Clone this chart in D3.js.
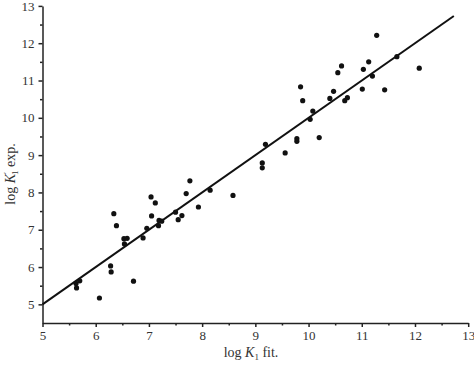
<!DOCTYPE html>
<html>
<head>
<meta charset="utf-8">
<script src="https://cdn.jsdelivr.net/npm/d3@7"></script>
<style>
  body { margin: 0; background: #fff; }
  svg { display: block; }
  .axis text { font-family: "Liberation Serif", serif; font-size: 13px; fill: #333; }
  .axis path, .axis line { stroke: #222; stroke-width: 1.5; }
  .lbl { font-family: "Liberation Serif", serif; font-size: 14px; fill: #333; }
</style>
</head>
<body>
<svg width="474" height="369"></svg>
<script>
"use strict";

// log K1 fit. (x) and log K'1 exp. (y)
var logKfit = [5.63, 5.64, 5.70, 6.07, 6.28, 6.29, 6.34, 6.39, 6.54, 6.53, 6.59, 6.71,
  6.89, 6.96, 7.04, 7.05, 7.12, 7.19, 7.18, 7.24, 7.50, 7.55, 7.62, 7.70, 7.77, 7.93,
  8.15, 8.58, 9.13, 9.13, 9.19, 9.56, 9.78, 9.78, 9.85, 9.89, 10.03, 10.08, 10.20,
  10.40, 10.47, 10.55, 10.62, 10.68, 10.73, 11.01, 11.03, 11.13, 11.20, 11.28, 11.43,
  11.66, 12.08];
var logKexp = [5.56, 5.44, 5.63, 5.17, 6.03, 5.87, 7.43, 7.11, 6.62, 6.76, 6.77, 5.62,
  6.78, 7.04, 7.88, 7.37, 7.72, 7.25, 7.11, 7.23, 7.47, 7.27, 7.38, 7.97, 8.31, 7.61,
  8.06, 7.92, 8.79, 8.66, 9.29, 9.06, 9.44, 9.37, 10.83, 10.46, 9.96, 10.18, 9.47,
  10.52, 10.71, 11.21, 11.39, 10.46, 10.54, 10.77, 11.30, 11.50, 11.12, 12.21, 10.75,
  11.64, 11.33];
var fitLine = [[5, 5], [12.73, 12.73]];
var xTicks = [5, 6, 7, 8, 9, 10, 11, 12, 13];
var yTicks = [5, 6, 7, 8, 9, 10, 11, 12, 13];

var svg = d3.select("svg");

var x = d3.scaleLinear().domain([5, 13]).range([42.5, 468.2]);
var y = d3.scaleLinear().domain([4.5, 13]).range([323, 5.9]);

var minorX = d3.range(5.5, 13, 1);
var minorY = d3.range(5.5, 13, 1);

// x axis
var gx = svg.append("g").attr("class", "axis").attr("transform", "translate(0," + y(4.5) + ")");
gx.call(d3.axisBottom(x).tickValues(xTicks).tickFormat(d3.format("d")).tickSize(4).tickPadding(4).tickSizeOuter(0));
gx.append("g").call(d3.axisBottom(x).tickValues(minorX).tickFormat("").tickSize(2.5).tickSizeOuter(0))
  .select(".domain").remove();

// y axis
var gy = svg.append("g").attr("class", "axis").attr("transform", "translate(" + x(5) + ",0)");
gy.call(d3.axisLeft(y).tickValues(yTicks).tickFormat(d3.format("d")).tickSize(4).tickPadding(4).tickSizeOuter(0));
gy.append("g").call(d3.axisLeft(y).tickValues(minorY).tickFormat("").tickSize(2.5).tickSizeOuter(0))
  .select(".domain").remove();

// fit line
svg.append("path")
  .datum(fitLine)
  .attr("fill", "none")
  .attr("stroke", "#111")
  .attr("stroke-width", 2)
  .attr("d", d3.line().x(function (d) { return x(d[0]); }).y(function (d) { return y(d[1]); }));

// points
svg.append("g").selectAll("circle")
  .data(logKfit.map(function (d, i) { return [d, logKexp[i]]; }))
  .enter().append("circle")
  .attr("cx", function (d) { return x(d[0]); })
  .attr("cy", function (d) { return y(d[1]); })
  .attr("r", 2.6)
  .attr("fill", "#111");

// x label
var xl = svg.append("text").attr("class", "lbl").attr("x", 251).attr("y", 357).attr("text-anchor", "middle");
xl.append("tspan").text("log ");
xl.append("tspan").attr("font-style", "italic").text("K");
xl.append("tspan").attr("font-size", "9px").attr("dy", 3).text("1");
xl.append("tspan").attr("dy", -3).text(" fit.");

// y label
var yl = svg.append("text").attr("class", "lbl").attr("text-anchor", "middle")
  .attr("transform", "translate(15,174) rotate(-90)");
yl.append("tspan").text("log ");
yl.append("tspan").attr("font-style", "italic").text("K");
yl.append("tspan").attr("font-size", "9px").attr("dy", -5).text("′");
yl.append("tspan").attr("font-size", "9px").attr("dx", -3).attr("dy", 8).text("1");
yl.append("tspan").attr("dy", -3).text(" exp.");
</script>
</body>
</html>
